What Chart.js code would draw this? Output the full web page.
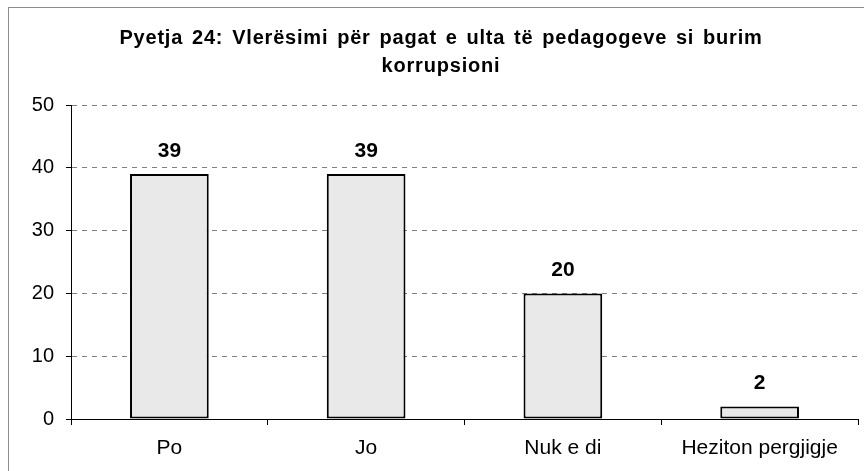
<!DOCTYPE html>
<html><head><meta charset="utf-8">
<script src="https://cdn.jsdelivr.net/npm/chart.js@4"></script>
<style>
html,body{margin:0;padding:0;background:#fff;overflow:hidden;width:864px;height:471px}
#frame{position:absolute;left:8px;top:7px;width:1000px;height:1000px;border:1px solid #8c8c8c;}
#c{position:absolute;left:0;top:0}
</style></head>
<body><div id="frame"></div><canvas id="c" width="864" height="471"></canvas>
<script>
const categories = ['Po', 'Jo', 'Nuk e di', 'Heziton pergjigje'];
const values = [39, 39, 20, 2];
const valueLabels = ['39', '39', '20', '2'];
const yTicks = [0, 10, 20, 30, 40, 50];
const titleLines = ['Pyetja 24: Vlerësimi për pagat e ulta të pedagogeve si burim', 'korrupsioni'];

const FONT = '"Liberation Sans", Arial, sans-serif';

const titlePlugin = {
  id: 'customTitle',
  afterDraw(chart) {
    const ctx = chart.ctx;
    ctx.save();
    ctx.font = 'bold 20px ' + FONT;
    ctx.letterSpacing = '0.8px';
    ctx.wordSpacing = '2.5px';
    ctx.fillStyle = '#000';
    ctx.textAlign = 'center';
    ctx.textBaseline = 'alphabetic';
    ctx.fillText(titleLines[0], 441, 44);
    ctx.fillText(titleLines[1], 441, 72);
    ctx.restore();
  }
};

const labelPlugin = {
  id: 'valueLabels',
  afterDatasetsDraw(chart) {
    const ctx = chart.ctx;
    const meta = chart.getDatasetMeta(0);
    ctx.save();
    ctx.font = 'bold 21px ' + FONT;
    ctx.fillStyle = '#000';
    ctx.textAlign = 'center';
    ctx.textBaseline = 'alphabetic';
    meta.data.forEach((bar, i) => {
      ctx.fillText(valueLabels[i], bar.x, bar.y - 17.5);
    });
    ctx.restore();
  }
};

new Chart(document.getElementById('c'), {
  type: 'bar',
  data: {
    labels: categories,
    datasets: [{
      data: values,
      backgroundColor: '#e9e9e9',
      borderColor: '#000',
      borderWidth: 2,
      borderSkipped: false,
      barPercentage: 0.4,
      categoryPercentage: 1.0
    }]
  },
  options: {
    responsive: false,
    devicePixelRatio: 1,
    animation: false,
    layout: { padding: { top: 105, right: 6, left: 0, bottom: 0 } },
    plugins: { legend: { display: false }, title: { display: false }, tooltip: { enabled: false } },
    scales: {
      x: {
        afterFit(s) { s.height = 52; },
        grid: { offset: true, drawOnChartArea: false, drawTicks: true, tickLength: 6, tickColor: '#000', tickWidth: 1, tickBorderDash: [] },
        border: { color: '#000', width: 1 },
        ticks: { color: '#000', font: { family: FONT, size: 21 }, padding: 11, maxRotation: 0, autoSkip: false }
      },
      y: {
        min: 0, max: 50,
        afterFit(s) { s.width = 71; },
        afterBuildTicks(s) { s.ticks = yTicks.map(v => ({ value: v })); },
        grid: { color: '#808080', lineWidth: 1, drawTicks: true, tickLength: 5, tickColor: '#000', tickBorderDash: [], tickWidth: 1 },
        border: { color: '#000', width: 1, dash: [5, 5] },
        ticks: { color: '#000', font: { family: FONT, size: 20 }, padding: 12 }
      }
    }
  },
  plugins: [titlePlugin, labelPlugin]
});
</script>
</body></html>
